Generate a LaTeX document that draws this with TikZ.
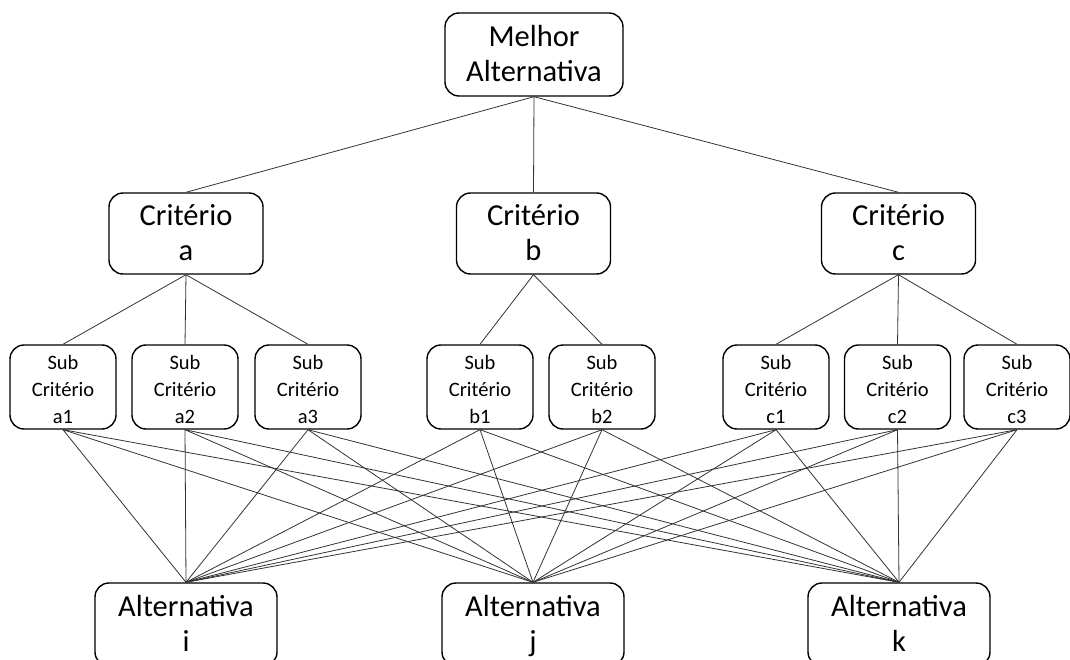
\documentclass[tikz,border=0pt]{standalone}
\usepackage{fontspec}
\setmainfont{Carlito}
% line struts giving every text line the same height and depth
\newcommand\bigln{\rule[-8pt]{0pt}{35pt}}
\newcommand\smallln{\rule[-4.5pt]{0pt}{27pt}}
\begin{document}
\begin{tikzpicture}[x=1pt,y=-1pt,
  box/.style={draw=black,line width=1.4pt,rounded corners=14pt,inner sep=0pt,
    align=center,fill=white},
  bigbox/.style={box,font=\fontsize{30.5}{35}\selectfont},
  subbox/.style={box,font=\fontsize{20.5}{27}\selectfont,
    minimum width=106pt,minimum height=84pt},
  link/.style={draw=black!80,line width=0.8pt}]
\useasboundingbox (0,0) rectangle (1070,660);
\clip (0,0) rectangle (1070,660);

% goal
\node[bigbox,minimum width=178pt,minimum height=83pt] (goal) at (534,54.5)
  {\bigln Melhor\\\bigln Alternativa};

% criteria
\node[bigbox,minimum width=154pt,minimum height=81pt] (ca) at (186,233.5) {\bigln Critério\\\bigln a};
\node[bigbox,minimum width=154pt,minimum height=81pt] (cb) at (533.5,233.5) {\bigln Critério\\\bigln b};
\node[bigbox,minimum width=154pt,minimum height=81pt] (cc) at (898.5,233.5) {\bigln Critério\\\bigln c};

% sub-criteria
\node[subbox] (a1) at (63,387) {\smallln Sub\\\smallln Critério\\\smallln a1};
\node[subbox] (a2) at (185,387) {\smallln Sub\\\smallln Critério\\\smallln a2};
\node[subbox] (a3) at (308,387) {\smallln Sub\\\smallln Critério\\\smallln a3};
\node[subbox] (b1) at (480,387) {\smallln Sub\\\smallln Critério\\\smallln b1};
\node[subbox] (b2) at (602,387) {\smallln Sub\\\smallln Critério\\\smallln b2};
\node[subbox] (c1) at (776,387) {\smallln Sub\\\smallln Critério\\\smallln c1};
\node[subbox] (c2) at (897.5,387) {\smallln Sub\\\smallln Critério\\\smallln c2};
\node[subbox] (c3) at (1017,387) {\smallln Sub\\\smallln Critério\\\smallln c3};

% alternatives
\node[bigbox,minimum width=182pt,minimum height=83pt] (ai) at (186,624.5) {\bigln Alternativa\\\bigln i};
\node[bigbox,minimum width=182pt,minimum height=83pt] (aj) at (533,624.5) {\bigln Alternativa\\\bigln j};
\node[bigbox,minimum width=182pt,minimum height=83pt] (ak) at (899,624.5) {\bigln Alternativa\\\bigln k};

% connectors
\foreach \c in {ca,cb,cc}
  \draw[link] (goal.south) -- (\c.north);
\foreach \s in {a1,a2,a3}
  \draw[link] (ca.south) -- (\s.north);
\foreach \s in {b1,b2}
  \draw[link] (cb.south) -- (\s.north);
\foreach \s in {c1,c2,c3}
  \draw[link] (cc.south) -- (\s.north);
\foreach \s in {a1,a2,a3,b1,b2,c1,c2,c3}
  \foreach \a in {ai,aj,ak}
    \draw[link] (\s.south) -- (\a.north);
\end{tikzpicture}
\end{document}
